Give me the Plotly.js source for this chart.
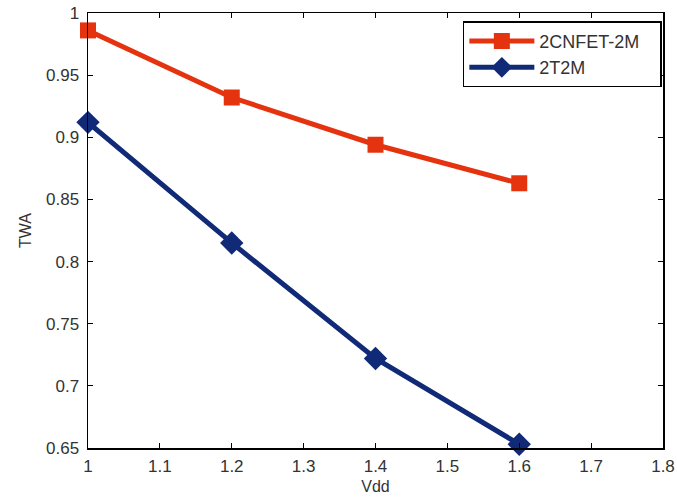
<!DOCTYPE html>
<html><head><meta charset="utf-8">
<script src="https://cdn.plot.ly/plotly-3.0.1.min.js"></script>
<style>html,body{margin:0;padding:0;background:#fff}#c{width:677px;height:499px}</style>
</head><body><div id="c"></div>
<script>
const vdd = [1.0, 1.2, 1.4, 1.6];
const cnfet = [0.986, 0.932, 0.894, 0.863];
const t2m = [0.912, 0.815, 0.722, 0.653];
const seriesNames = ['2CNFET-2M', '2T2M'];
const xTicks = [1, 1.1, 1.2, 1.3, 1.4, 1.5, 1.6, 1.7, 1.8];
const xTickText = ['1', '1.1', '1.2', '1.3', '1.4', '1.5', '1.6', '1.7', '1.8'];
const yTicks = [0.65, 0.7, 0.75, 0.8, 0.85, 0.9, 0.95, 1];
const yTickText = ['0.65', '0.7', '0.75', '0.8', '0.85', '0.9', '0.95', '1'];

const pad = '\u00a0\u00a0\u00a0';
const traces = [
  {x: vdd, y: cnfet, name: seriesNames[0] + pad, mode: 'lines+markers', cliponaxis: false,
   line: {color: '#E5330F', width: 5},
   marker: {symbol: 'square', size: 16, color: '#E5330F'}},
  {x: vdd, y: t2m, name: seriesNames[1], mode: 'lines+markers', cliponaxis: false,
   line: {color: '#102A78', width: 5},
   marker: {symbol: 'diamond', size: 18, color: '#102A78'}}
];
const fam = 'Liberation Sans, Arial, sans-serif';
const axisCommon = {showgrid: false, zeroline: false, showline: true, mirror: 'ticks',
  linecolor: '#000', linewidth: 1.5, ticks: 'inside', ticklen: 5, tickcolor: '#000',
  ticklabelstandoff: 4,
  tickfont: {family: fam, size: 17, color: '#333'}};
const layout = {
  width: 677, height: 499,
  margin: {l: 88, r: 14, t: 13, b: 51},
  paper_bgcolor: '#fff', plot_bgcolor: '#fff',
  font: {family: fam, size: 16, color: '#333'},
  xaxis: Object.assign({}, axisCommon, {range: [1, 1.8], tickvals: xTicks, ticktext: xTickText,
    ticklabelstandoff: 2,
    title: {text: 'Vdd', standoff: 6, font: {size: 16, color: '#333'}}}),
  yaxis: Object.assign({}, axisCommon, {range: [0.65, 1], tickvals: yTicks, ticktext: yTickText,
    title: {text: 'TWA', standoff: 10, font: {size: 16, color: '#333'}}}),
  legend: {x: 0.998, y: 0.981, xanchor: 'right', yanchor: 'top', bgcolor: '#fff',
    bordercolor: '#000', borderwidth: 1.5, font: {family: fam, size: 18, color: '#333'},
    itemwidth: 65, tracegroupgap: 0},
  showlegend: true
};
Plotly.newPlot('c', traces, layout, {displayModeBar: false, staticPlot: true});
</script></body></html>
